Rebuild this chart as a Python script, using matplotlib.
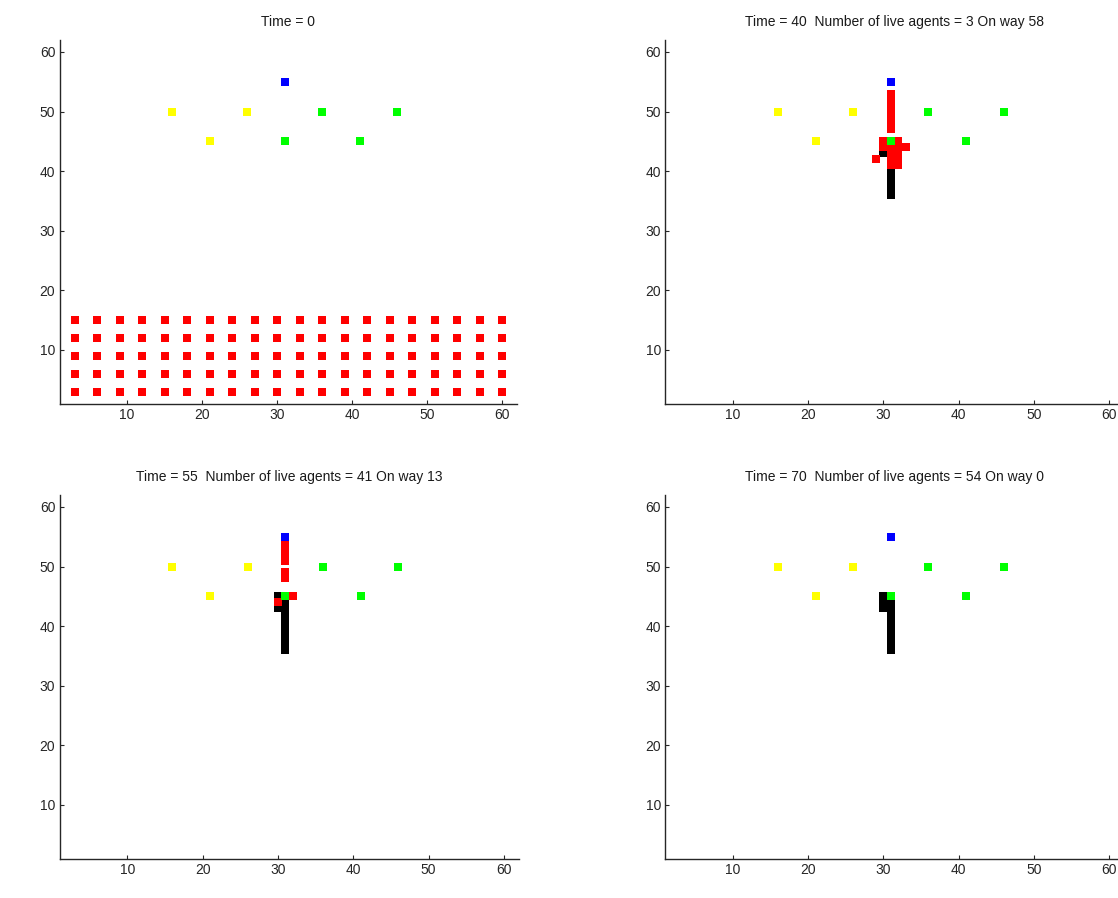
import numpy as np
import matplotlib
matplotlib.use("Agg")
import matplotlib.pyplot as plt

plt.rcParams['font.family'] = ['Liberation Sans', 'DejaVu Sans']

# ---- static targets (same in every panel) ----
blue_x = [31]
blue_y = [55]
yellow_x = [16, 26, 21]
yellow_y = [50, 50, 45]
green_x = [36, 46, 31, 41]
green_y = [50, 50, 45, 45]

# ---- panel 1: initial agents grid ----
red0_cols = [3, 6, 9, 12, 15, 18, 21, 24, 27, 30, 33, 36, 39, 42, 45, 48, 51, 54, 57, 60]
red0_rows = [3, 6, 9, 12, 15]

# ---- panel 2 (Time 40) ----
red40_x = [31, 31, 31, 31, 31, 31, 31, 30, 31, 32, 30, 31, 32, 33, 31, 32, 31, 32, 31, 32, 29]
red40_y = [47, 48, 49, 50, 51, 52, 53, 45, 45, 45, 44, 44, 44, 44, 43, 43, 42, 42, 41, 41, 42]
black40_x = [30, 31, 31, 31, 31, 31]
black40_y = [43, 36, 37, 38, 39, 40]

# ---- panel 3 (Time 55) ----
red55_x = [31, 31, 31, 31, 31, 31, 32, 30]
red55_y = [54, 53, 52, 51, 49, 48, 45, 44]
black55_x = [30, 30, 31, 31, 31, 31, 31, 31, 31, 31, 31, 31]
black55_y = [45, 43, 36, 37, 38, 39, 40, 41, 42, 43, 44, 45]

# ---- panel 4 (Time 70) ----
red70_x = []
red70_y = []
black70_x = [30, 30, 30, 31, 31, 31, 31, 31, 31, 31, 31, 31, 31]
black70_y = [43, 44, 45, 36, 37, 38, 39, 40, 41, 42, 43, 44, 45]

titles = ["Time = 0",
          "Time = 40  Number of live agents = 3 On way 58",
          "Time = 55  Number of live agents = 41 On way 13",
          "Time = 70  Number of live agents = 54 On way 0"]
ticks = [10, 20, 30, 40, 50, 60]

gx, gy = np.meshgrid(red0_cols, red0_rows)
panels = [
    (gx.ravel(), gy.ravel(), [], []),
    (red40_x, red40_y, black40_x, black40_y),
    (red55_x, red55_y, black55_x, black55_y),
    (red70_x, red70_y, black70_x, black70_y),
]

W, H = 1118, 898
fig = plt.figure(figsize=(W / 100, H / 100), dpi=100)

# axes boxes in pixels: (left, right, top, bottom)
boxes = [(59.5, 517, 40, 403.6), (665.3, 1124, 40, 403.6),
         (59.5, 519, 495, 858.6), (665.3, 1124, 495, 858.6)]

ms = 28  # marker area (pt^2)
for i, (box, (rx, ry, bx, by)) in enumerate(zip(boxes, panels)):
    l, r, t, b = box
    ax = fig.add_axes([l / W, 1 - b / H, (r - l) / W, (b - t) / H])
    ax.set_xlim(1, 62)
    ax.set_ylim(1, 62)
    if len(bx):
        ax.scatter(bx, by, s=ms, marker='s', c='black', linewidths=0, zorder=2)
    if len(rx):
        ax.scatter(rx, ry, s=ms, marker='s', c='#ff0000', linewidths=0, zorder=3)
    ax.scatter(yellow_x, yellow_y, s=ms, marker='s', c='#ffff00', linewidths=0, zorder=4)
    ax.scatter(green_x, green_y, s=ms, marker='s', c='#00ff00', linewidths=0, zorder=4)
    ax.scatter(blue_x, blue_y, s=ms, marker='s', c='#0000ff', linewidths=0, zorder=4)
    ax.set_xticks(ticks)
    ax.set_yticks(ticks)
    ax.spines['top'].set_visible(False)
    ax.spines['right'].set_visible(False)
    for s in ('left', 'bottom'):
        ax.spines[s].set_color('#262626')
        ax.spines[s].set_linewidth(1.0)
    ax.tick_params(direction='in', length=3, width=0.8, colors='#262626',
                   labelsize=10, pad=3)
    ax.set_title(titles[i], fontsize=10, color='#1a1a1a', pad=10)

fig.savefig("out.png", dpi=100)
